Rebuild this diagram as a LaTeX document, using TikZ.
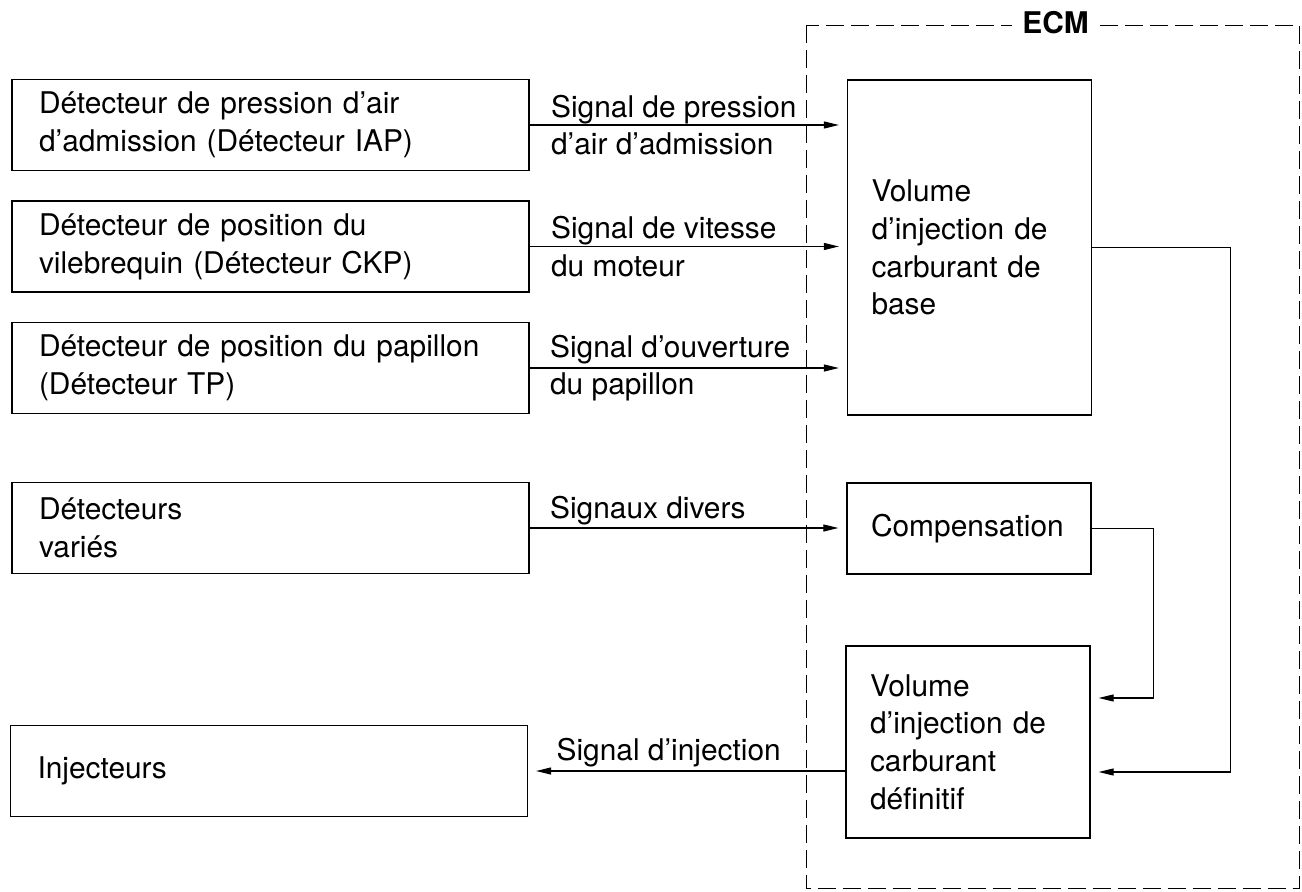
\documentclass[tikz,border=0pt]{standalone}
\usepackage{fontspec}
\setmainfont{TeX Gyre Heros}
\usetikzlibrary{calc}
\usetikzlibrary{arrows.meta}
\tikzstyle{every node}=[font=\fontsize{17}{21.5}\selectfont]
\tikzstyle{capteur}=[draw,line width=0.75pt,text width=9.26cm,inner xsep=0.54cm,inner ysep=0pt,minimum height=1.82cm,align=left]
\tikzstyle{calcul}=[draw,line width=0.75pt,text width=3.92cm,inner xsep=0.48cm,inner ysep=0pt,align=left]
\tikzstyle{signal}=[->,line width=0.6pt,shorten >=0.16cm]
\tikzstyle{legende}=[inner sep=0pt,align=left]

\begin{document}
\begin{tikzpicture}[line join=miter,>={Triangle[length=0.3cm,width=0.14cm]},x=0.02cm,y=-0.02cm]
            \useasboundingbox (0,0) rectangle (1302,892);
            \draw [line width=0.5pt,dash pattern=on 0.36cm off 0.14cm] (806,25) rectangle (1299,888);
            \node [fill=white,font=\fontsize{17}{20}\selectfont\bfseries,inner xsep=0.2cm] (ecm) at (1055.5,23) {ECM};
            \node [capteur] (iap) at (270.5,125) {Détecteur de pression d’air\\d’admission (Détecteur IAP)};
            \node [capteur] (ckp) at (270.5,246.5) {Détecteur de position du\\vilebrequin (Détecteur CKP)};
            \node [capteur] (tp) at (270.5,368) {Détecteur de position du papillon\\(Détecteur TP)};
            \node [capteur] (divers) at (270.5,528) {Détecteurs\\variés};
            \node [capteur] (inj) at (269,771) {Injecteurs};
            \node [calcul,minimum height=6.7cm] (base) at (969.5,247.5) {Volume\\d’injection de\\carburant de\\base};
            \node [calcul,minimum height=1.82cm] (comp) at (969,528.5) {Compensation};
            \node [calcul,minimum height=3.84cm] (final) at (968,742) {Volume\\d’injection de\\carburant\\définitif};
            \draw [signal] (iap.east) -- (iap.east -| base.west)
            node [legende,pos=0,anchor=west,xshift=0.42cm] {Signal de pression\\d’air d’admission};
            \draw [signal] (ckp.east) -- (ckp.east -| base.west)
            node [legende,pos=0,anchor=west,xshift=0.42cm] {Signal de vitesse\\du moteur};
            \draw [signal] (tp.east) -- (tp.east -| base.west)
            node [legende,pos=0,anchor=west,xshift=0.4cm] {Signal d’ouverture\\du papillon};
            \draw [signal] (divers.east) -- (divers.east -| comp.west)
            node [legende,pos=0,anchor=base west,xshift=0.4cm,yshift=0.2cm] {Signaux divers};
            \draw [signal] (final.west |- inj.east) -- (inj.east)
            node [legende,pos=1,anchor=base west,xshift=0.56cm,yshift=0.22cm] {Signal d’injection};
            \draw [signal] (comp.east) -- ++(62,0) |- ($(final.east)+(0,-44)$);
            \draw [signal] (base.east) -- ++(138,0) |- ($(final.east)+(0,30)$);
\end{tikzpicture}
\end{document}
